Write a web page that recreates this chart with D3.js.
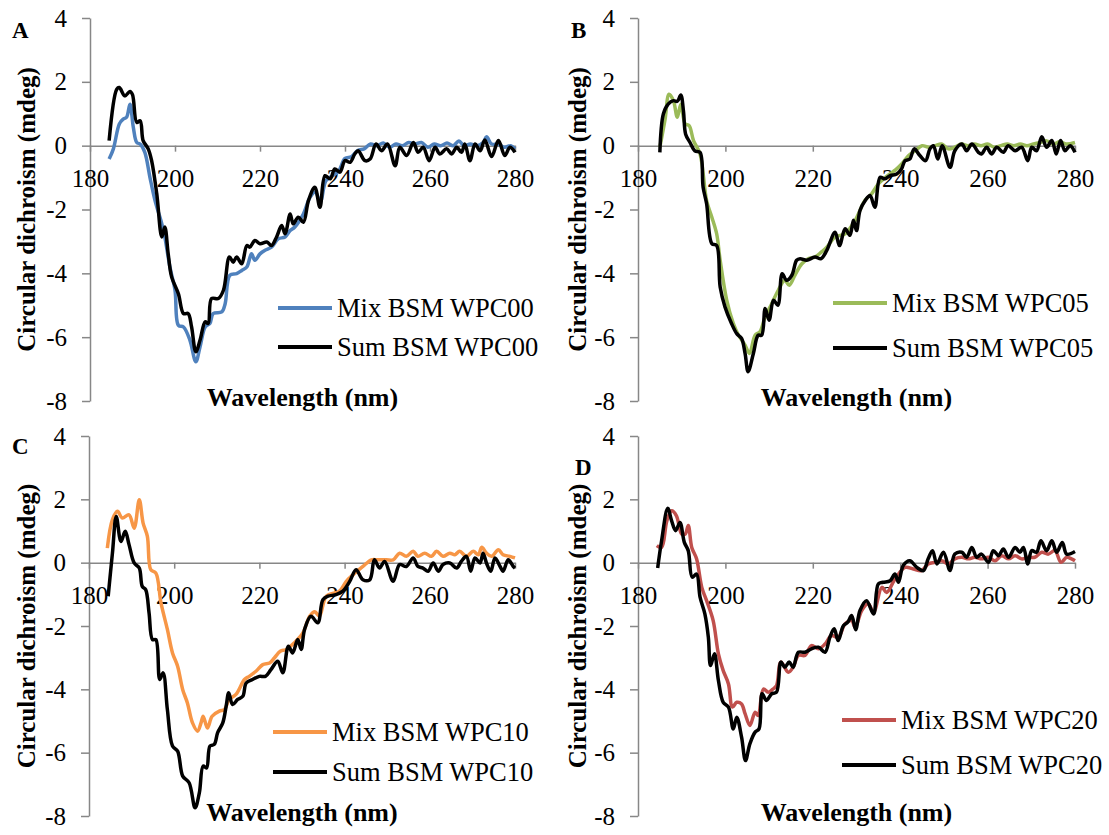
<!DOCTYPE html>
<html><head><meta charset="utf-8">
<script src="https://cdn.jsdelivr.net/npm/d3@7"></script>
<style>
html,body{margin:0;padding:0;background:#fff;}
svg{display:block;font-family:"Liberation Serif","Times New Roman",serif;}
</style></head>
<body>
<svg id="chart" width="1109" height="835"></svg>
<script>
// ---------- DATA ----------
const xTicks = [180, 200, 220, 240, 260, 280];
const yTicks = [4, 2, 0, -2, -4, -6, -8];
const panelLetters = ["A", "B", "C", "D"];
const mixNames = ["Mix BSM WPC00", "Mix BSM WPC05", "Mix BSM WPC10", "Mix BSM WPC20"];
const sumNames = ["Sum BSM WPC00", "Sum BSM WPC05", "Sum BSM WPC10", "Sum BSM WPC20"];
const mixColors = ["#4F81BD", "#9BBB59", "#F79646", "#C0504D"];
const xTitle = "Wavelength (nm)";
const yTitle = "Circular dichroism (mdeg)";

// [wavelength nm, CD mdeg]
const mixA = [[184.5,-0.42],[185.5,-0.1],[186.9,0.68],[187.8,0.83],[188.6,0.89],[189.4,1.30],[190.2,0.57],[191,0.1],[191.8,0.05],[192.9,-0.21],[194.1,-0.99],[195.3,-1.72],[196.9,-2.45],[197.6,-2.86],[198.8,-3.8],[200,-4.53],[200.8,-5.63],[202,-5.68],[203.5,-6.09],[204.9,-6.77],[205.9,-6.3],[207.1,-5.68],[208.2,-5.57],[209,-5.26],[211,-5.21],[211.8,-4.95],[212.9,-4.06],[214.5,-4.01],[215.7,-3.91],[216.9,-3.8],[218,-3.39],[218.8,-3.59],[220,-3.39],[221.2,-3.28],[222.7,-3.18],[224.3,-2.92],[225.9,-2.86],[227.1,-2.66],[228.2,-2.55],[230.2,-2.14],[231.8,-1.61],[233,-1.45],[234.2,-1.75],[235.5,-1.1],[237,-0.95],[238.5,-0.8],[240,-0.4],[241.5,-0.35],[243,-0.15],[244.5,-0.1],[246,0.05],[247.5,0.0],[249,0.08],[250.5,-0.05],[252,0.05],[253.5,0.0],[255,0.1],[256.5,0.05],[258,0.1],[259.5,-0.05],[261,0.05],[262.5,0.0],[264,0.08],[265.5,0.0],[266.8,0.15],[268,0.0],[269.5,0.05],[271,0.0],[272.5,0.1],[273.3,0.28],[274.5,0.05],[276,0.05],[277.5,-0.05],[279,0.0],[280,-0.1]];
const sumA = [[184.5,0.16],[186.3,1.77],[186.9,1.82],[188.2,1.56],[189.4,1.70],[190,1.6],[191,0.73],[191.8,0.78],[192.5,0.16],[193.7,-0.1],[194.5,-0.47],[195.7,-1.5],[196.9,-2.86],[197.6,-2.55],[198.4,-3.39],[199.2,-4.11],[200.8,-4.64],[202,-5.26],[203.1,-5.26],[203.9,-5.68],[204.9,-6.46],[205.9,-6.09],[207.1,-5.52],[207.8,-5.57],[208.6,-4.79],[210.2,-4.79],[211.4,-4.53],[212.8,-3.49],[213.7,-3.65],[214.5,-3.49],[215.7,-3.70],[216.9,-3.13],[217.6,-3.18],[218.8,-2.97],[220,-3.07],[221.6,-3.02],[222.7,-3.13],[223.9,-2.86],[225.1,-2.5],[225.9,-2.76],[227.1,-2.14],[227.8,-2.45],[229,-2.24],[230.2,-2.4],[231.4,-1.72],[232.9,-1.3],[234.1,-1.93],[235.3,-0.94],[236.5,-1.04],[237.6,-0.73],[238.8,-0.83],[240,-0.47],[241.2,-0.52],[242.3,-0.26],[243.1,-0.16],[244.7,-0.47],[245.9,-0.42],[247.3,0.05],[248.6,-0.16],[250,0.05],[251.8,-0.63],[252.9,-0.05],[254.5,-0.31],[256.1,0.1],[257.2,-0.21],[258.4,-0.05],[259.8,-0.47],[261.2,-0.05],[262.3,-0.26],[263.9,-0.1],[265.1,-0.26],[266.3,-0.05],[267.4,-0.21],[268.2,0.05],[269.4,-0.47],[270.6,0.05],[271.8,-0.16],[272.9,0.18],[274.5,-0.34],[276.1,0.16],[277.6,-0.31],[278.8,-0.05],[280,-0.21]];
const mixB = [[185,-0.05],[186.2,0.83],[187.1,1.61],[188.1,1.41],[189,0.89],[189.8,1.30],[190.8,0.68],[191.7,0.63],[192.7,0.16],[194.2,-0.26],[195.7,-1.72],[196.9,-2.24],[198,-2.76],[198.8,-3.59],[200.3,-4.84],[201.8,-5.57],[203,-5.94],[204.5,-6.25],[205.5,-6.51],[206.8,-5.94],[207.9,-5.83],[209.1,-5.36],[210.6,-4.95],[212.1,-4.53],[213.6,-4.22],[214.6,-4.37],[215.9,-4.06],[217.5,-3.7],[219,-3.54],[220.5,-3.49],[222,-3.33],[223.2,-3.18],[225.1,-2.86],[227.4,-2.76],[229.7,-2.34],[231.9,-1.72],[233.5,-1.5],[235,-1.2],[237,-0.95],[239,-0.75],[240.5,-0.55],[242,-0.3],[243.5,-0.15],[245,0.0],[246.5,-0.05],[248,0.0],[249.5,0.05],[251,-0.1],[252.5,-0.05],[254,0.05],[255.5,0.0],[257,0.05],[258.5,0.0],[260,0.05],[261.5,-0.05],[263,0.0],[264.5,0.05],[266,0.0],[267.5,0.05],[269,0.0],[270.5,0.05],[272,0.1],[273.5,0.15],[275,0.05],[276.5,0.12],[278,0.05],[280,0.1]];
const sumB = [[185,-0.21],[185.8,0.99],[186.9,1.30],[188.1,1.41],[189,1.39],[189.8,1.59],[190.4,1.09],[190.9,0.36],[191.9,0.1],[193,-0.16],[194.2,-0.21],[194.9,-1.3],[195.7,-1.82],[196.9,-3.07],[198,-3.13],[198.8,-4.43],[199.9,-5.05],[201.4,-5.57],[202.6,-5.89],[203.7,-6.04],[204.5,-6.51],[205.2,-7.08],[206.4,-6.51],[207.5,-5.94],[208.3,-5.94],[209.1,-5.10],[210,-5.47],[211,-4.84],[212,-5.0],[213,-4.01],[214,-4.22],[215.2,-4.06],[216.3,-3.59],[217.1,-3.54],[218.6,-3.59],[220.5,-3.49],[221.9,-3.54],[223.2,-3.28],[225.1,-2.71],[226.1,-3.13],[227.4,-2.6],[228.5,-2.81],[229.3,-2.34],[230,-2.66],[230.8,-2.03],[232,-1.72],[233.1,-1.56],[234.2,-1.93],[235.4,-0.99],[236.5,-1.04],[237.7,-0.94],[239.2,-0.89],[240.3,-0.73],[241.1,-0.47],[242.2,-0.42],[243.2,-0.1],[244.5,-0.31],[245.8,-0.47],[246.8,-0.1],[247.6,0],[248.6,-0.42],[249.6,0],[251.4,-0.68],[252.5,-0.16],[254.1,0.05],[255.2,-0.16],[256.4,0.05],[257.9,-0.21],[258.6,-0.26],[259.8,-0.05],[260.9,-0.26],[262.1,-0.05],[263.6,-0.21],[264.7,0],[266.3,-0.16],[267.8,-0.05],[269.2,-0.47],[270.1,-0.05],[271.2,-0.16],[272.4,0.28],[273.5,-0.05],[274.7,0.16],[275.7,-0.26],[276.7,0.16],[277.7,-0.16],[278.9,0],[280,-0.21]];
const mixC = [[184.3,0.46],[185.5,1.36],[186.7,1.62],[187.8,1.41],[189.4,1.51],[190.6,1.09],[191.8,1.99],[192.7,1.25],[193.7,0.83],[194.5,-0.22],[195.7,-0.33],[196.9,-1.27],[198.4,-2.11],[199.6,-2.85],[200.8,-3.27],[202,-4.01],[203.1,-4.43],[204.3,-5.06],[205.5,-5.32],[206.3,-5.06],[206.8,-4.85],[207.8,-5.22],[208.9,-4.85],[210.6,-4.69],[211.8,-4.64],[212.9,-4.32],[214.5,-4.16],[216.5,-3.69],[217.6,-3.59],[219.2,-3.43],[220.8,-3.22],[222.4,-3.17],[223.5,-3.01],[224.9,-2.80],[226.3,-2.74],[228.2,-2.53],[230.2,-2.22],[231.8,-1.69],[233,-1.55],[234.1,-1.69],[235.7,-1.06],[238.8,-0.9],[240.4,-0.59],[242,-0.38],[244.3,-0.12],[246.3,0.09],[247.8,0.09],[249.8,0.09],[251.4,0.09],[252.9,0.3],[254.5,0.2],[256.1,0.36],[257.2,0.2],[258.8,0.3],[260.4,0.2],[261.6,0.36],[263.1,0.2],[264.7,0.3],[265.9,0.25],[267,0.36],[268.6,0.2],[270.2,0.36],[271.4,0.25],[272.2,0.49],[273.3,0.3],[274.5,0.2],[276.1,0.41],[277.2,0.25],[278.8,0.2],[280,0.15]];
const sumC = [[184.5,-1.06],[185.5,0.3],[186.4,1.46],[187.5,0.67],[188.5,0.99],[189.4,0.57],[190.6,-0.01],[191.8,-0.17],[192.5,-0.75],[193.3,-0.85],[194.1,-1.59],[194.9,-2.43],[195.7,-2.43],[196.6,-3.69],[197.4,-3.48],[198.4,-4.64],[199.6,-5.79],[200.8,-5.95],[202,-6.74],[203.5,-6.95],[204.9,-7.74],[205.9,-7.27],[206.8,-6.42],[207.6,-6.48],[208.4,-5.79],[209.4,-5.74],[210.2,-5.37],[211.4,-5.06],[212.2,-4.53],[212.8,-4.11],[213.7,-4.48],[214.9,-4.32],[216.1,-4.22],[216.9,-3.80],[218.4,-3.69],[220,-3.59],[221.4,-3.59],[222.7,-3.38],[224.3,-3.11],[225.5,-3.48],[226.8,-2.64],[227.8,-2.85],[229,-2.43],[229.8,-2.74],[230.6,-2.11],[232.1,-1.69],[233.7,-1.90],[234.9,-1.17],[236.1,-1.06],[238,-1.01],[239.6,-0.9],[241.2,-0.59],[242.7,-0.22],[244.3,-0.54],[245.9,-0.54],[247,0.09],[248.2,-0.17],[249.4,0.04],[251.4,-0.59],[252.9,-0.06],[254.5,-0.12],[256.1,0.15],[257.2,-0.12],[258.4,-0.17],[259.6,-0.27],[260.8,-0.01],[262,-0.27],[263.1,-0.06],[264.7,-0.01],[266.3,-0.17],[267.4,0.04],[268.6,0.2],[269.6,-0.27],[270.6,0.15],[271.8,-0.01],[272.5,0.3],[273.3,-0.01],[274.3,-0.27],[275.3,0.15],[276.5,-0.12],[277.2,-0.27],[278.4,0.09],[279.6,-0.12],[280,-0.17]];
const mixD = [[184.3,0.54],[185.4,0.48],[186.6,1.32],[187.7,1.64],[188.8,1.48],[190,0.9],[190.8,0.9],[191.5,1.17],[192.3,0.48],[193.4,0.12],[194.6,-0.78],[195.7,-1.2],[197.2,-1.83],[198.4,-2.88],[199.5,-3.41],[200.7,-3.83],[201.6,-4.56],[202.6,-4.41],[203.7,-4.46],[204.5,-4.77],[205.6,-5.14],[206.8,-4.72],[207.5,-4.83],[208.7,-3.99],[209.8,-4.09],[210.9,-3.99],[211.7,-3.88],[212.7,-3.14],[214.4,-3.46],[215.5,-3.3],[216.7,-2.93],[218.2,-2.93],[219.7,-2.62],[221.3,-2.72],[222.8,-2.57],[224.3,-2.3],[225.8,-2.36],[227.4,-1.93],[228.9,-1.83],[229.7,-2.04],[231.2,-1.51],[232.7,-1.3],[233.9,-1.57],[235.8,-0.78],[236.9,-0.94],[238.8,-0.52],[241.1,-0.15],[243,-0.2],[244.9,-0.25],[246.4,-0.04],[248,0.01],[249.5,0.06],[251,-0.04],[252.5,0.12],[254.1,0.17],[255.6,0.12],[257.1,0.17],[258.6,0.12],[260.2,0.17],[261.7,0.06],[263.2,0.22],[264.8,0.12],[266.3,0.22],[267.8,0.12],[269.3,0.17],[270.8,0.17],[272.4,0.33],[273.9,0.27],[275.4,0.38],[276.8,0.01],[278.1,0.17],[279.2,0.12],[280,0.06]];
const sumD = [[184.5,-0.17],[185.4,0.69],[186.8,1.72],[187.7,1.32],[188.6,1.01],[189.6,1.27],[190.6,0.64],[191.5,0.38],[192.4,-0.46],[193.4,-0.36],[194.2,-1.09],[195.3,-1.62],[196.1,-2.36],[196.6,-3.25],[197.5,-2.88],[198.4,-3.72],[199.5,-4.41],[200.7,-4.56],[201.8,-5.25],[202.6,-4.88],[203.7,-5.51],[204.6,-6.25],[205.6,-5.72],[206.8,-5.35],[207.7,-5.25],[208.4,-4.14],[209.4,-4.35],[210.6,-4.14],[211.7,-4.09],[212.7,-3.14],[213.6,-3.3],[214.6,-3.14],[215.5,-3.3],[216.7,-2.83],[218.2,-2.83],[219.7,-2.72],[221.3,-2.67],[222.8,-2.83],[223.9,-2.36],[224.9,-2.09],[225.8,-2.46],[227,-1.99],[228,-1.88],[228.9,-1.67],[229.8,-2.12],[230.8,-1.51],[232.3,-1.2],[233.9,-1.62],[235,-0.67],[236.1,-0.62],[237.7,-0.57],[238.8,-0.36],[239.6,-0.62],[240.7,-0.09],[242.2,0.06],[243.8,-0.15],[245.3,-0.25],[246.4,0.12],[247.4,0.38],[248.4,-0.04],[249.9,0.33],[251.4,-0.25],[252.5,0.27],[254.1,0.33],[255.2,0.17],[256.4,0.48],[257.5,0.17],[258.6,0.27],[260.2,0.01],[261.3,0.38],[262.5,0.22],[263.6,0.43],[264.8,0.17],[266.3,0.48],[267.4,0.33],[268.2,0.48],[269.2,-0.04],[270.1,0.38],[271.2,0.33],[272.2,0.69],[273.5,0.38],[274.7,0.69],[275.8,0.33],[277.1,0.64],[278.1,0.27],[280,0.35]];

const mixSeries = [mixA, mixB, mixC, mixD];
const sumSeries = [sumA, sumB, sumC, sumD];

// ---------- LAYOUT ----------
const FONT = '"Liberation Serif","Times New Roman",serif';
const layout = [
  {x0: 90,  x1: 515,  yTop: 18,  yBot: 401, letter:[12,38],  yTitleX: 26,  xTitleY: 406, leg:{x1:278,x2:332,y1:308,y2:347}},
  {x0: 638, x1: 1075, yTop: 18,  yBot: 401, letter:[571,38], yTitleX: 577, xTitleY: 406, leg:{x1:833,x2:887,y1:303,y2:348}},
  {x0: 89,  x1: 515,  yTop: 436, yBot: 816, letter:[12,454], yTitleX: 26,  xTitleY: 821, leg:{x1:273,x2:327,y1:732,y2:772}},
  {x0: 638, x1: 1075, yTop: 436, yBot: 816, letter:[575,475],yTitleX: 577, xTitleY: 821, leg:{x1:842,x2:896,y1:720,y2:765}}
];
const axisColor = "#878787";
const svg = d3.select("#chart");

layout.forEach((L, i) => {
  const x = d3.scaleLinear().domain([180, 280]).range([L.x0, L.x1]);
  const y = d3.scaleLinear().domain([-8, 4]).range([L.yBot, L.yTop]);
  const g = svg.append("g").attr("font-family", FONT);

  // y axis
  const ya = g.append("g").attr("transform", `translate(${L.x0},0)`)
    .call(d3.axisLeft(y).tickValues(yTicks).tickSize(8).tickSizeOuter(0).tickFormat(d3.format("d")));
  ya.attr("font-family", FONT);
  ya.select(".domain").attr("stroke", axisColor).attr("stroke-width", 1.5);
  ya.selectAll(".tick line").attr("stroke", axisColor).attr("stroke-width", 1.5);
  ya.selectAll(".tick text").attr("x", -23).attr("font-size", 25)
    .attr("font-family", FONT).attr("fill", "#000")
    .text(d => d < 0 ? "-" + Math.abs(d) : d);

  // x axis at y=0
  const xa = g.append("g").attr("transform", `translate(0,${y(0)})`)
    .call(d3.axisBottom(x).tickValues(xTicks).tickSize(6).tickSizeOuter(0).tickFormat(d3.format("d")));
  xa.attr("font-family", FONT);
  xa.select(".domain").attr("stroke", axisColor).attr("stroke-width", 1.5);
  xa.selectAll(".tick line").attr("stroke", axisColor).attr("stroke-width", 1.5);
  xa.selectAll(".tick text").attr("y", 41).attr("dy", "0").attr("font-size", 25)
    .attr("font-family", FONT).attr("fill", "#000");

  const line = d3.line().x(d => x(d[0])).y(d => y(d[1])).curve(d3.curveCatmullRom.alpha(0.5));
  g.append("path").datum(mixSeries[i]).attr("d", line).attr("fill", "none")
    .attr("stroke", mixColors[i]).attr("stroke-width", 3.5).attr("stroke-linejoin", "round");
  g.append("path").datum(sumSeries[i]).attr("d", line).attr("fill", "none")
    .attr("stroke", "#000").attr("stroke-width", 3.5).attr("stroke-linejoin", "round");

  // legend
  const lg = g.append("g");
  [[mixColors[i], mixNames[i], L.leg.y1], ["#000", sumNames[i], L.leg.y2]].forEach(([c, t, yy]) => {
    lg.append("line").attr("x1", L.leg.x1).attr("x2", L.leg.x2).attr("y1", yy).attr("y2", yy)
      .attr("stroke", c).attr("stroke-width", 4);
    lg.append("text").attr("x", L.leg.x2 + 5).attr("y", yy).attr("dy", "0.33em")
      .attr("font-size", 26.5).attr("fill", "#000").text(t);
  });

  // titles
  g.append("text").attr("x", (L.x0 + L.x1) / 2).attr("y", L.xTitleY).attr("text-anchor", "middle")
    .attr("font-size", 26).attr("font-weight", "bold").text(xTitle);
  g.append("text").attr("transform", `translate(${L.yTitleX},${(L.yTop + L.yBot) / 2}) rotate(-90)`)
    .attr("text-anchor", "middle").attr("dy", "0.35em")
    .attr("font-size", 25).attr("font-weight", "bold").text(yTitle);
  g.append("text").attr("x", L.letter[0]).attr("y", L.letter[1])
    .attr("font-size", 23).attr("font-weight", "bold").text(panelLetters[i]);
});
</script>
</body></html>
